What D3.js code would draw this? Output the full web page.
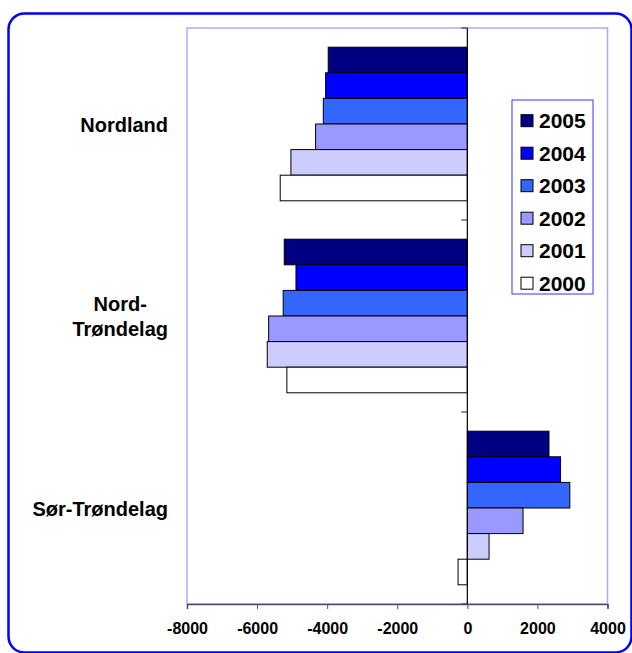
<!DOCTYPE html>
<html>
<head>
<meta charset="utf-8">
<script src="https://cdn.jsdelivr.net/npm/d3@7"></script>
<style>
  body { margin: 0; background: #fff; }
  svg { display: block; font-family: "Liberation Sans", Arial, sans-serif; }
</style>
</head>
<body>
<div id="viz"></div>
<script>
// data
const regions = ['Nordland', 'Nord-Trøndelag', 'Sør-Trøndelag'];
const regionLines = [['Nordland'], ['Nord-', 'Trøndelag'], ['Sør-Trøndelag']];
const years = ['2005', '2004', '2003', '2002', '2001', '2000'];
const yearColors = ['#000080', '#0000ff', '#3366ff', '#9999ff', '#ccccff', '#ffffff'];
const v2005 = [-3970, -5225, 2330];
const v2004 = [-4045, -4890, 2660];
const v2003 = [-4110, -5255, 2925];
const v2002 = [-4330, -5670, 1590];
const v2001 = [-5035, -5710, 620];
const v2000 = [-5340, -5150, -265];
const xTicks = [-8000, -6000, -4000, -2000, 0, 2000, 4000];

const series = [v2005, v2004, v2003, v2002, v2001, v2000];
const rows = regions.map((r, i) => ({region: r, lines: regionLines[i],
  vals: years.map((y, j) => ({year: y, v: series[j][i], color: yearColors[j]}))}));

const W = 632, H = 653;
const plot = {left: 187, right: 607.5, top: 28, bottom: 604};

const svg = d3.select('#viz').append('svg').attr('width', W).attr('height', H);

// outer rounded frame (runs off the right and bottom edge a little)
svg.append('rect').attr('x', 8.5).attr('y', 13.5).attr('width', 623).attr('height', 639)
  .attr('rx', 16).attr('fill', 'none').attr('stroke', '#0000ff').attr('stroke-width', 2.5);

const x = d3.scaleLinear().domain([-8000, 4000]).range([plot.left, plot.right]);
const y0 = d3.scaleBand().domain(regions).range([plot.top, plot.bottom]);
const bw = y0.bandwidth();
const y1 = d3.scaleBand().domain(years).range([bw * 0.1, bw * 0.9]);

// plot area border
svg.append('rect').attr('x', plot.left).attr('y', plot.top)
  .attr('width', plot.right - plot.left).attr('height', plot.bottom - plot.top)
  .attr('fill', 'none').attr('stroke', '#aaaaff').attr('stroke-width', 1.5);

// bars
const grp = svg.selectAll('.grp').data(rows).enter().append('g')
  .attr('transform', d => `translate(0,${y0(d.region)})`);
grp.selectAll('rect').data(d => d.vals).enter().append('rect')
  .attr('x', d => x(Math.min(0, d.v)))
  .attr('width', d => Math.abs(x(d.v) - x(0)))
  .attr('y', d => y1(d.year))
  .attr('height', y1.bandwidth())
  .attr('fill', d => d.color)
  .attr('stroke', '#000').attr('stroke-width', 1);

// x axis
const xAxis = svg.append('g').attr('transform', `translate(0,${plot.bottom})`)
  .call(d3.axisBottom(x).tickValues(xTicks).tickSize(5).tickSizeOuter(5).tickFormat(d => String(d)));
xAxis.attr('font-size', 16).attr('font-family', '"Liberation Sans", Arial, sans-serif');
xAxis.select('.domain').attr('stroke', '#4d4d73').attr('stroke-width', 1.5);
xAxis.selectAll('.tick line').attr('stroke', '#4d4d73');
xAxis.selectAll('.tick text').attr('fill', '#000').attr('font-weight', 'bold')
  .attr('y', 19).attr('dy', '0.71em');

// category axis at zero
const bounds = regions.map(r => y0(r)).concat([plot.bottom]);
const zAxis = svg.append('g').attr('transform', `translate(${x(0)},0)`);
zAxis.append('line').attr('y1', plot.top).attr('y2', plot.bottom).attr('stroke', '#000').attr('stroke-width', 1.2);
zAxis.selectAll('.t').data(bounds).enter().append('line')
  .attr('x1', -6).attr('x2', 0).attr('y1', d => d).attr('y2', d => d)
  .attr('stroke', '#444').attr('stroke-width', 1.2);

// category labels
const labelRight = 168;
rows.forEach(r => {
  const g = svg.append('g');
  const n = r.lines.length;
  const cy = y0(r.region) + bw / 2;
  const lh = 25;
  const t = g.selectAll('text').data(r.lines).enter().append('text')
    .attr('text-anchor', 'middle').attr('font-size', 20).attr('font-weight', 'bold')
    .attr('y', (d, i) => cy + 7.5 + (i - (n - 1) / 2) * lh)
    .text(d => d);
  let maxW = 0;
  t.each(function() { maxW = Math.max(maxW, this.getComputedTextLength()); });
  g.attr('transform', `translate(${labelRight - maxW / 2},0)`);
});

// legend
const lg = svg.append('g').attr('transform', 'translate(512,100)');
lg.append('rect').attr('width', 81).attr('height', 194).attr('fill', '#fff')
  .attr('stroke', '#3333ff').attr('stroke-width', 1);
const li = lg.selectAll('.li').data(years).enter().append('g')
  .attr('transform', (d, i) => `translate(0,${20.7 + i * 32.5})`);
li.append('rect').attr('x', 9).attr('y', -6).attr('width', 12).attr('height', 12)
  .attr('fill', (d, i) => yearColors[i]).attr('stroke', '#000').attr('stroke-width', 1);
li.append('text').attr('x', 27).attr('y', 7.5).attr('font-size', 21).attr('font-weight', 'bold')
  .text(d => d);
</script>
</body>
</html>
